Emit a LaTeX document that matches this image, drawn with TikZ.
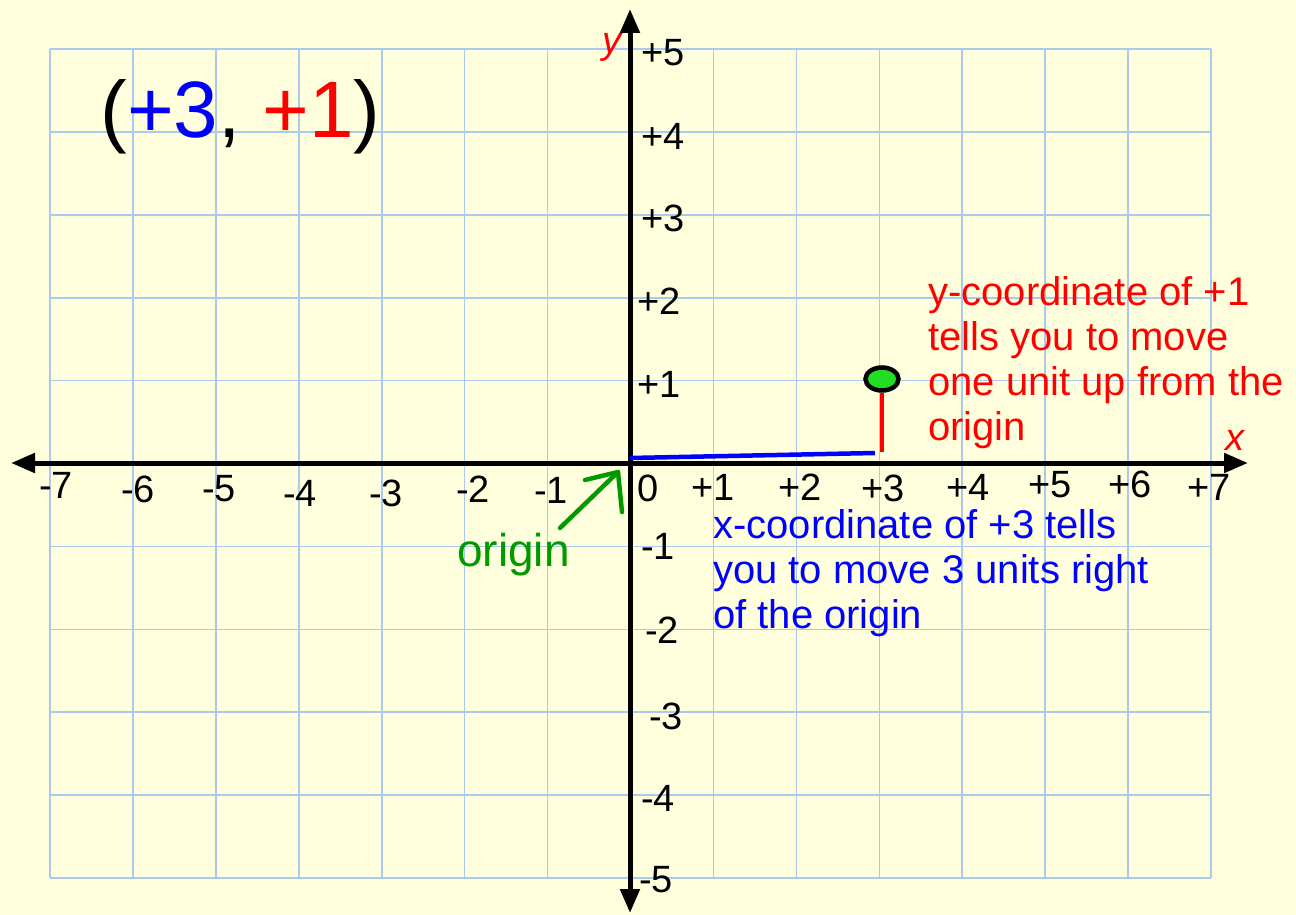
\documentclass[tikz,border=0pt]{standalone}
\usepackage{fontspec}
\setmainfont{Liberation Sans}
\usetikzlibrary{arrows.meta,shapes.geometric}
\definecolor{bgyellow}{HTML}{FFFEDD}
\definecolor{gridblue}{HTML}{AAC8F0}
\definecolor{pblue}{HTML}{0000FF}
\definecolor{pred}{HTML}{FF0000}
\definecolor{pgreen}{HTML}{009900}
\definecolor{dotgreen}{HTML}{22DD22}
\tikzset{
  gridline/.style={gridblue, line width=1.6pt},
  axisline/.style={line width=5pt, black, {Triangle[length=24pt,width=19pt]}-{Triangle[length=24pt,width=19pt]}},
  ticklabel/.style={inner sep=0pt, font=\fontsize{38}{40}\selectfont},
  note/.style={inner sep=0pt, align=left, anchor=north west, font=\fontsize{40}{45}\selectfont},
  axlabel/.style={inner sep=0pt, text=pred, font=\fontsize{38}{40}\selectfont\itshape},
  guide/.style={line width=4.5pt},
  greenarrow/.style={pgreen, line width=4.5pt, line cap=round, line join=round},
}
\begin{document}
\begin{tikzpicture}[x=1pt,y=-1pt]
\path[use as bounding box, fill=bgyellow] (0,0) rectangle (1296,915);
% grid
\foreach \i in {0,...,14} {\draw[gridline] ({50+82.93*\i},49) -- ({50+82.93*\i},878);}
\foreach \j in {0,...,10} {\draw[gridline] (50,{49+82.9*\j}) -- (1211,{49+82.9*\j});}
% axes
\coordinate (xl) at (11,463);
\coordinate (xr) at (1248,463);
\coordinate (yt) at (630,9);
\coordinate (yb) at (630,913);
\draw[axisline] (xl) -- (xr);
\draw[axisline] (yb) -- (yt);
\node[axlabel] (ylab) at (612,47) {y};
\node[axlabel] (xlab) at (1235,440) {x};
% x tick labels
\node[ticklabel] (xm7) at (56,485) {-7};
\node[ticklabel] (xm6) at (138,489) {-6};
\node[ticklabel] (xm5) at (219,489) {-5};
\node[ticklabel] (xm4) at (300,493) {-4};
\node[ticklabel] (xm3) at (386,493) {-3};
\node[ticklabel] (xm2) at (473,489) {-2};
\node[ticklabel] (xm1) at (551,490) {-1};
\node[ticklabel] (x0) at (648,488) {0};
\node[ticklabel] (xp1) at (713,487) {+1};
\node[ticklabel] (xp2) at (800,487) {+2};
\node[ticklabel] (xp3) at (883,488) {+3};
\node[ticklabel] (xp4) at (968,487) {+4};
\node[ticklabel] (xp5) at (1050,485) {+5};
\node[ticklabel] (xp6) at (1130,484) {+6};
\node[ticklabel] (xp7) at (1209,487) {+7};
% y tick labels
\node[ticklabel] (yp5) at (663,53) {+5};
\node[ticklabel] (yp4) at (663,136) {+4};
\node[ticklabel] (yp3) at (663,218) {+3};
\node[ticklabel] (yp2) at (659,301) {+2};
\node[ticklabel] (yp1) at (659,384) {+1};
\node[ticklabel] (ym1) at (658,546) {-1};
\node[ticklabel] (ym2) at (662,630) {-2};
\node[ticklabel] (ym3) at (666,716) {-3};
\node[ticklabel] (ym4) at (658,798) {-4};
\node[ticklabel] (ym5) at (656,880) {-5};
% title
\node[inner sep=0pt, anchor=base, font=\fontsize{80}{90}\selectfont] (title) at (240.5,138)
  {(\textcolor{pblue}{+3}, \textcolor{pred}{+1})};
% guides
\coordinate (O) at (630,458);
\coordinate (xbar) at (875,453);
\draw[guide, pblue] (O) -- (xbar);
\node[draw=black, line width=4.5pt, fill=dotgreen, ellipse, minimum width=33pt, minimum height=23pt, inner sep=0pt] (pt) at (882,379) {};
\coordinate (ybar) at (882,452);
\draw[guide, pred] (pt.south) -- (ybar);
% origin arrow
\coordinate (gtail) at (560,528);
\coordinate (gtip) at (618,472);
\coordinate (gw1) at (585,480);
\coordinate (gw2) at (622,512);
\draw[greenarrow] (gtail) -- (gtip);
\draw[greenarrow] (gw1) -- (gtip) -- (gw2);
\node[inner sep=0pt, anchor=base west, text=pgreen, font=\fontsize{46}{50}\selectfont] (origin) at (457,566) {origin};
% notes
\node[note, text=pred] (ynote) at (928,276) {y-coordinate of +1\\tells you to move\\one unit up from the\\origin};
\node[note, text=pblue] (xnote) at (713,509) {x-coordinate of +3 tells\\you to move 3 units right\\of the origin};
\end{tikzpicture}
\end{document}
